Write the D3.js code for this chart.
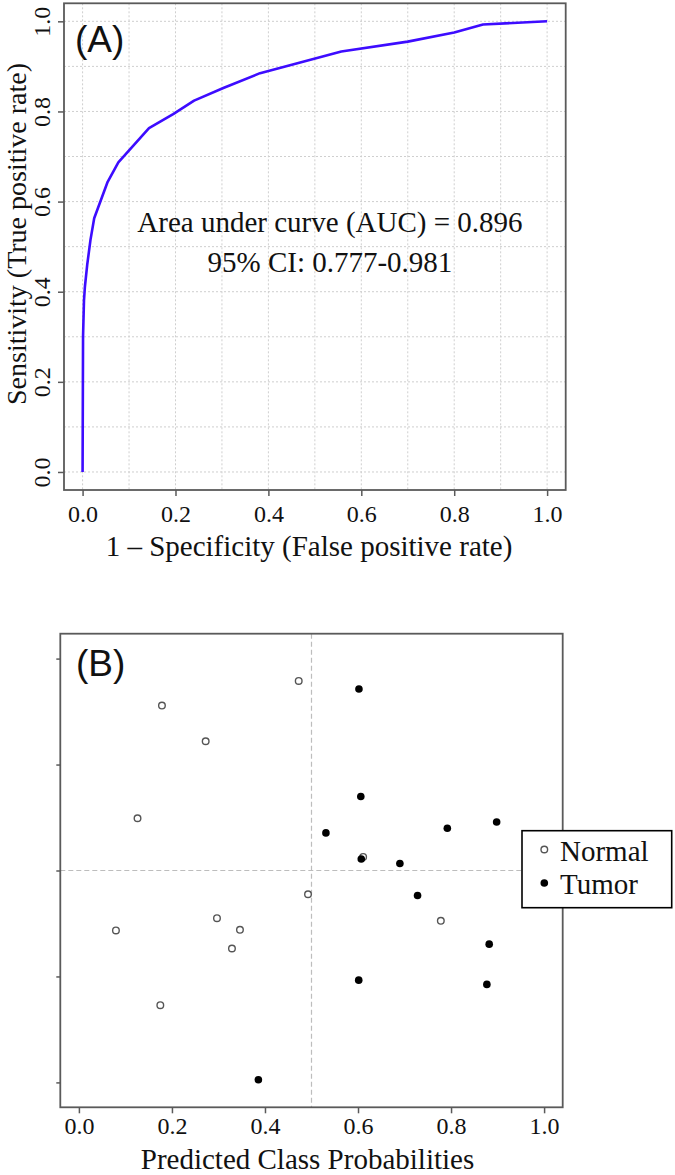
<!DOCTYPE html>
<html>
<head>
<meta charset="utf-8">
<script src="https://cdn.jsdelivr.net/npm/d3@7/dist/d3.min.js"></script>
<style>
  html, body { margin: 0; padding: 0; background: #fff; }
  svg { display: block; }
</style>
</head>
<body>
<svg id="chart" width="675" height="1175"></svg>
<script>
// ---------- Data ----------
// Panel A: ROC curve
const rocFPR = [0, 0.001, 0.003, 0.005, 0.010, 0.017, 0.025, 0.054, 0.077, 0.143, 0.195, 0.240, 0.303, 0.382, 0.557, 0.700, 0.800, 0.862, 1.0];
const rocTPR = [0, 0.300, 0.380, 0.411, 0.460, 0.515, 0.563, 0.644, 0.687, 0.763, 0.794, 0.824, 0.852, 0.885, 0.933, 0.955, 0.975, 0.993, 1.0];
const rocTicks = [0, 0.2, 0.4, 0.6, 0.8, 1.0];
const rocGrid = [0, 0.1, 0.2, 0.3, 0.4, 0.5, 0.6, 0.7, 0.8, 0.9, 1.0];
const aucLines = ["Area under curve (AUC) = 0.896", "95% CI: 0.777-0.981"];
const titleA = "(A)";
const xTitleA = "1 \u2013 Specificity (False positive rate)";
const yTitleA = "Sensitivity (True positive rate)";

// Panel B: predicted class probabilities (x) with vertical jitter (y)
const normalX = [0.4725, 0.1785, 0.2725, 0.126, 0.4925, 0.0796, 0.2968, 0.3462, 0.329, 0.175, 0.611, 0.778];
const normalY = [1.789, 1.557, 1.220, 0.493, -0.224, -0.566, -0.450, -0.560, -0.736, -1.271, 0.128, -0.475];
const tumorX = [0.531, 0.3858, 0.602, 0.606, 0.792, 0.898, 0.607, 0.690, 0.728, 0.882, 0.6015, 0.877];
const tumorY = [0.355, -1.975, 1.713, 0.698, 0.399, 0.458, 0.109, 0.066, -0.236, -0.695, -1.035, -1.075];
const probTicks = [0, 0.2, 0.4, 0.6, 0.8, 1.0];
const jitterTicks = [-2, -1, 0, 1, 2];
const cutoffX = 0.5;
const cutoffY = 0;
const legendLabels = ["Normal", "Tumor"];
const titleB = "(B)";
const xTitleB = "Predicted Class Probabilities";

// ---------- Styles ----------
const serif = "'Liberation Serif', 'Times New Roman', serif";
const sans = "'Liberation Sans', Arial, sans-serif";
const frameColor = "#5a5a5a";
const curveColor = "#3d0cff";

const svg = d3.select("#chart");
const fmt = d3.format(".1f");

// ================= Panel A =================
const A = { left: 64, right: 565.7, top: 3.3, bottom: 490 };
const xA = d3.scaleLinear().domain([-0.04, 1.04]).range([A.left, A.right]);
const yA = d3.scaleLinear().domain([-0.04, 1.04]).range([A.bottom, A.top]);

const gA = svg.append("g");

// grid
gA.append("g").selectAll("line.v").data(rocGrid).join("line")
  .attr("x1", d => xA(d)).attr("x2", d => xA(d))
  .attr("y1", A.top).attr("y2", A.bottom)
  .attr("stroke", "#cfcfcf").attr("stroke-width", 1).attr("stroke-dasharray", "2,2");
gA.append("g").selectAll("line.h").data(rocGrid).join("line")
  .attr("x1", A.left).attr("x2", A.right)
  .attr("y1", d => yA(d)).attr("y2", d => yA(d))
  .attr("stroke", "#cfcfcf").attr("stroke-width", 1).attr("stroke-dasharray", "2,2");

// frame
gA.append("rect")
  .attr("x", A.left).attr("y", A.top)
  .attr("width", A.right - A.left).attr("height", A.bottom - A.top)
  .attr("fill", "none").attr("stroke", frameColor).attr("stroke-width", 1.8);

// x axis
const axA = gA.append("g").attr("transform", `translate(0,${A.bottom})`)
  .call(d3.axisBottom(xA).tickValues(rocTicks).tickFormat(fmt).tickSize(6).tickSizeOuter(0).tickPadding(8));
axA.select(".domain").remove();
axA.selectAll(".tick line").attr("stroke", frameColor).attr("stroke-width", 1.5);
axA.selectAll(".tick text").attr("font-family", serif).attr("font-size", 24).attr("fill", "#111")
  .attr("dy", null).attr("y", 32);

// y axis
const ayA = gA.append("g").attr("transform", `translate(${A.left},0)`)
  .call(d3.axisLeft(yA).tickValues(rocTicks).tickFormat(fmt).tickSize(6).tickSizeOuter(0));
ayA.select(".domain").remove();
ayA.selectAll(".tick line").attr("stroke", frameColor).attr("stroke-width", 1.5);
ayA.selectAll(".tick text").attr("font-family", serif).attr("font-size", 24).attr("fill", "#111")
  .attr("transform", "rotate(-90)").attr("x", 0).attr("y", -14).attr("dy", null)
  .attr("text-anchor", "middle");

// ROC curve
const rocData = rocFPR.map((f, i) => [f, rocTPR[i]]);
gA.append("path").datum(rocData)
  .attr("d", d3.line().x(d => xA(d[0])).y(d => yA(d[1])))
  .attr("fill", "none").attr("stroke", curveColor).attr("stroke-width", 2.6)
  .attr("stroke-linejoin", "round");

// AUC annotation
gA.append("g").selectAll("text").data(aucLines).join("text")
  .attr("x", xA(0.5325)).attr("y", (d, i) => yA(0.533) + i * 40)
  .attr("text-anchor", "middle").attr("font-family", serif).attr("font-size", 29).attr("fill", "#111")
  .text(d => d);

// panel label
gA.append("text").attr("x", 75).attr("y", 52)
  .attr("font-family", sans).attr("font-size", 37).attr("fill", "#111").text(titleA);

// axis titles
gA.append("text").attr("x", 309).attr("y", 556).attr("text-anchor", "middle")
  .attr("font-family", serif).attr("font-size", 29).attr("fill", "#111").text(xTitleA);
gA.append("text").attr("transform", "translate(25.5,234) rotate(-90)").attr("text-anchor", "middle")
  .attr("font-family", serif).attr("font-size", 28).attr("fill", "#111").text(yTitleA);

// ================= Panel B =================
const B = { left: 60.3, right: 562.7, top: 633.7, bottom: 1107.3 };
const xB = d3.scaleLinear().domain([-0.04, 1.04]).range([B.left, B.right]);
const yB = d3.scaleLinear().domain([-2.235, 2.235]).range([B.bottom, B.top]);

const gB = svg.append("g");

// cutoff dashed lines
gB.append("line")
  .attr("x1", xB(cutoffX)).attr("x2", xB(cutoffX)).attr("y1", B.top).attr("y2", B.bottom)
  .attr("stroke", "#bdbdbd").attr("stroke-width", 1.2).attr("stroke-dasharray", "5,3");
gB.append("line")
  .attr("x1", B.left).attr("x2", B.right).attr("y1", yB(cutoffY)).attr("y2", yB(cutoffY))
  .attr("stroke", "#bdbdbd").attr("stroke-width", 1.2).attr("stroke-dasharray", "5,3");

// frame
gB.append("rect")
  .attr("x", B.left).attr("y", B.top)
  .attr("width", B.right - B.left).attr("height", B.bottom - B.top)
  .attr("fill", "none").attr("stroke", frameColor).attr("stroke-width", 1.8);

// x axis
const axB = gB.append("g").attr("transform", `translate(0,${B.bottom})`)
  .call(d3.axisBottom(xB).tickValues(probTicks).tickFormat(fmt).tickSize(6).tickSizeOuter(0));
axB.select(".domain").remove();
axB.selectAll(".tick line").attr("stroke", frameColor).attr("stroke-width", 1.5);
axB.selectAll(".tick text").attr("font-family", serif).attr("font-size", 24).attr("fill", "#111")
  .attr("dy", null).attr("y", 27);

// y axis (ticks only)
const ayB = gB.append("g").attr("transform", `translate(${B.left},0)`)
  .call(d3.axisLeft(yB).tickValues(jitterTicks).tickFormat("").tickSize(4).tickSizeOuter(0));
ayB.select(".domain").remove();
ayB.selectAll(".tick line").attr("stroke", frameColor).attr("stroke-width", 1.5);

// points
const normalData = normalX.map((x, i) => [x, normalY[i]]);
const tumorData = tumorX.map((x, i) => [x, tumorY[i]]);
gB.append("g").selectAll("circle").data(normalData).join("circle")
  .attr("cx", d => xB(d[0])).attr("cy", d => yB(d[1])).attr("r", 3.3)
  .attr("fill", "#fff").attr("stroke", "#555").attr("stroke-width", 1.4);
gB.append("g").selectAll("circle").data(tumorData).join("circle")
  .attr("cx", d => xB(d[0])).attr("cy", d => yB(d[1])).attr("r", 3.8)
  .attr("fill", "#000");

// panel label
gB.append("text").attr("x", 76).attr("y", 676)
  .attr("font-family", sans).attr("font-size", 37).attr("fill", "#111").text(titleB);

// x title
gB.append("text").attr("x", 307.5).attr("y", 1169).attr("text-anchor", "middle")
  .attr("font-family", serif).attr("font-size", 29).attr("fill", "#111").text(xTitleB);

// legend
const L = { x: 522, y: 830.7, w: 149.7, h: 77 };
const lg = svg.append("g").attr("transform", `translate(${L.x},${L.y})`);
lg.append("rect").attr("width", L.w).attr("height", L.h)
  .attr("fill", "#fff").attr("stroke", "#000").attr("stroke-width", 1.6);
const items = lg.selectAll("g.item").data(legendLabels).join("g")
  .attr("transform", (d, i) => `translate(0,${i * 33})`);
items.append("circle").attr("cx", 22.3).attr("cy", (d, i) => i === 0 ? 18.8 : 19.3)
  .attr("r", (d, i) => i === 0 ? 3.3 : 3.8)
  .attr("fill", (d, i) => i === 0 ? "#fff" : "#000")
  .attr("stroke", (d, i) => i === 0 ? "#555" : "none").attr("stroke-width", 1.4);
items.append("text").attr("x", 38).attr("y", 30)
  .attr("font-family", serif).attr("font-size", 29).attr("fill", "#111").text(d => d);
</script>
</body>
</html>
